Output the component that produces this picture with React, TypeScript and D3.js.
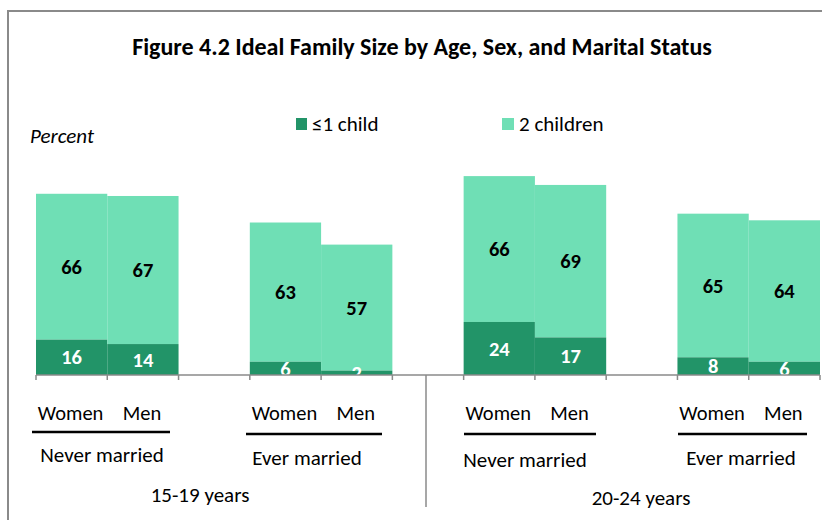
import React from "react";
import * as d3 from "d3";

const ageGroups = ["15-19 years", "20-24 years"];
const maritalStatus = ["Never married", "Ever married", "Never married", "Ever married"];
const sexes = ["Women", "Men"];
const oneChild = [16, 14, 6, 2, 24, 17, 8, 6];
const twoChildren = [66, 67, 63, 57, 66, 69, 65, 64];
const seriesNames = ["≤1 child", "2 children"];

const DARK = "#229468";
const LIGHT = "#6FDFB5";
const FONT = "Carlito, Lato, 'Open Sans', sans-serif";

export default function App() {
  const W = 822, H = 520;
  const baseY = 375;
  const slots = d3.range(11).map(String);
  const x = d3.scaleBand<string>().domain(slots).range([36, 820]).padding(0);
  const y = d3.scaleLinear().domain([0, 100]).range([baseY, baseY - 221]);

  const bars = oneChild.map((v, i) => {
    const g = Math.floor(i / 2);
    const s = i % 2;
    const slot = String(g * 3 + s);
    return { i, g, s, slot, one: v, two: twoChildren[i] };
  });

  const ticks = d3.range(12).map((k) => 36 + k * x.bandwidth());
  // layout of the hand-placed annotation boxes below the axis
  const underline = [
    { x1: 32, x2: 170, y: 432 },
    { x1: 246, x2: 382, y: 434 },
    { x1: 464, x2: 596, y: 434 },
    { x1: 678, x2: 807, y: 434 },
  ];
  const maritalPos = [
    { x: 102, y: 455 },
    { x: 307, y: 458 },
    { x: 525, y: 460 },
    { x: 741, y: 458 },
  ];
  const agePos = [
    { x: 200, y: 495 },
    { x: 641, y: 498 },
  ];
  const dividerX = 426;

  return (
    <svg width={W} height={H} style={{ position: "absolute", left: 0, top: 0, background: "#fff" }}>
      {/* frame */}
      <line x1={7} y1={11} x2={822} y2={11} stroke="#8a8a8a" strokeWidth={2} />
      <line x1={8} y1={11} x2={8} y2={520} stroke="#8a8a8a" strokeWidth={2} />

      <text x={422} y={55} textAnchor="middle" fontFamily={FONT} fontWeight="bold" fontSize={24}>
        Figure 4.2 Ideal Family Size by Age, Sex, and Marital Status
      </text>

      {/* legend */}
      <rect x={296} y={118} width={11} height={12} fill={DARK} />
      <text x={312} y={131} fontFamily={FONT} fontSize={21}>{seriesNames[0]}</text>
      <rect x={502} y={118} width={12} height={12} fill={LIGHT} />
      <text x={519} y={131} fontFamily={FONT} fontSize={21}>{seriesNames[1]}</text>

      <text x={30} y={143} fontFamily={FONT} fontStyle="italic" fontSize={21}>Percent</text>

      {/* bars */}
      {bars.map((b) => {
        const bx = x(b.slot)!;
        const bw = x.bandwidth();
        const yOne = y(b.one);
        const yTop = y(b.one + b.two);
        return (
          <g key={b.i}>
            <rect x={bx} y={yTop} width={bw} height={yOne - yTop} fill={LIGHT} />
            <rect x={bx} y={yOne} width={bw} height={baseY - yOne} fill={DARK} />
            <text x={bx + bw / 2} y={(yTop + yOne) / 2} dy="0.35em" textAnchor="middle"
              fontFamily={FONT} fontWeight="bold" fontSize={20.5} fill="#000">{b.two}</text>
            <text x={bx + bw / 2} y={(yOne + baseY) / 2} dy="0.35em" textAnchor="middle"
              fontFamily={FONT} fontWeight="bold" fontSize={20.5} fill="#fff">{b.one}</text>
          </g>
        );
      })}

      {/* axis */}
      <line x1={36} y1={baseY} x2={820} y2={baseY} stroke="#8a8a8a" strokeWidth={1.5} />
      {ticks.map((t, k) => (
        <line key={k} x1={t} y1={baseY} x2={t} y2={baseY + 5} stroke="#8a8a8a" strokeWidth={1.5} />
      ))}
      <line x1={dividerX} y1={baseY} x2={dividerX} y2={507} stroke="#8a8a8a" strokeWidth={1.5} />

      {bars.map((b) => (
        <text key={"s" + b.i} x={x(b.slot)! + x.bandwidth() / 2 + (b.s === 0 ? -1 : -1)} y={420}
          textAnchor="middle" fontFamily={FONT} fontSize={20.5}>{sexes[b.s]}</text>
      ))}

      {maritalStatus.map((m, g) => (
        <g key={"m" + g}>
          <line x1={underline[g].x1} x2={underline[g].x2} y1={underline[g].y} y2={underline[g].y} stroke="#000" strokeWidth={2.5} />
          <text x={maritalPos[g].x} y={maritalPos[g].y} dy="0.35em" textAnchor="middle" fontFamily={FONT} fontSize={21}>{m}</text>
        </g>
      ))}

      {ageGroups.map((a, k) => (
        <text key={a} x={agePos[k].x} y={agePos[k].y} dy="0.35em" textAnchor="middle" fontFamily={FONT} fontSize={21}>{a}</text>
      ))}
    </svg>
  );
}
